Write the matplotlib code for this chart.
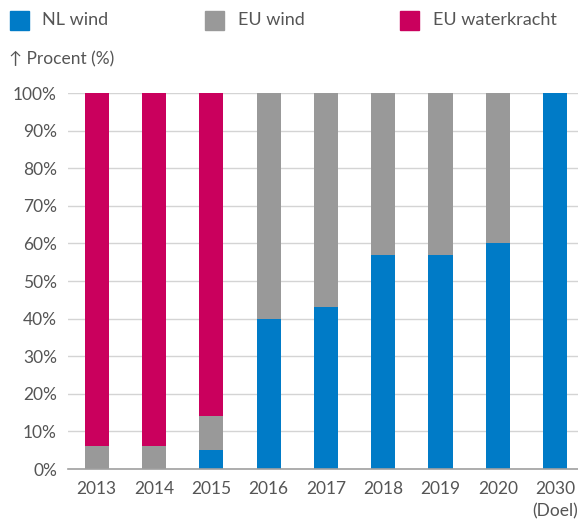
import matplotlib.pyplot as plt
from matplotlib.patches import Rectangle
import numpy as np

years = ["2013", "2014", "2015", "2016", "2017", "2018", "2019", "2020", "2030\n(Doel)"]
nl_wind = [0, 0, 5, 40, 43, 57, 57, 60, 100]
eu_wind = [6, 6, 9, 60, 57, 43, 43, 40, 0]
eu_water = [94, 94, 86, 0, 0, 0, 0, 0, 0]

c_nl = "#007bc7"
c_eu = "#999999"
c_water = "#ca005d"
txt = "#555555"

plt.rcParams['font.family'] = ['Lato', 'DejaVu Sans']

W, H = 578, 521
fig = plt.figure(figsize=(W / 100, H / 100), dpi=100)
ax = fig.add_axes([68 / W, (H - 469) / H, (W - 68) / W, 376 / H])

x = np.arange(len(years))
nl = np.array(nl_wind)
eu = np.array(eu_wind)
wa = np.array(eu_water)
bw = 0.42
ax.bar(x, nl, bw, color=c_nl, zorder=3)
ax.bar(x, eu, bw, bottom=nl, color=c_eu, zorder=3)
ax.bar(x, wa, bw, bottom=nl + eu, color=c_water, zorder=3)

ax.set_xlim(-0.5, 8.4)
ax.set_ylim(0, 100)
ax.set_yticks(range(0, 101, 10))
ax.set_yticklabels([f"{v}%" for v in range(0, 101, 10)])
ax.set_xticks(x)
ax.set_xticklabels(years, linespacing=1.45)
ax.tick_params(axis='both', length=0, labelsize=12.5, colors=txt)
ax.tick_params(axis='y', pad=8)
ax.tick_params(axis='x', pad=9)
ax.grid(axis='y', color='#d4d4d4', linewidth=1, zorder=0)
ax.set_axisbelow(True)
for s in ['top', 'right', 'left']:
    ax.spines[s].set_visible(False)
ax.spines['bottom'].set_color('#a0a0a0')
ax.spines['bottom'].set_linewidth(1.2)
ax.spines['bottom'].set_zorder(4)
ax.patch.set_alpha(0)

# legend row drawn by hand
legend = [("NL wind", c_nl, 10, 42), ("EU wind", c_eu, 205, 238), ("EU waterkracht", c_water, 400, 433)]
for label, col, sx, tx in legend:
    fig.patches.append(Rectangle((sx / W, 1 - 30 / H), 19 / W, 19 / H,
                                 transform=fig.transFigure, color=col))
    fig.text(tx / W, 1 - 20 / H, label, fontsize=13, color=txt, va='center', ha='left')

fig.text(9 / W, 1 - 59 / H, "↑ Procent (%)", fontsize=12.5, color=txt, va='center', ha='left',
         family=['Lato', 'DejaVu Sans'])

fig.savefig("out.png", dpi=100)
